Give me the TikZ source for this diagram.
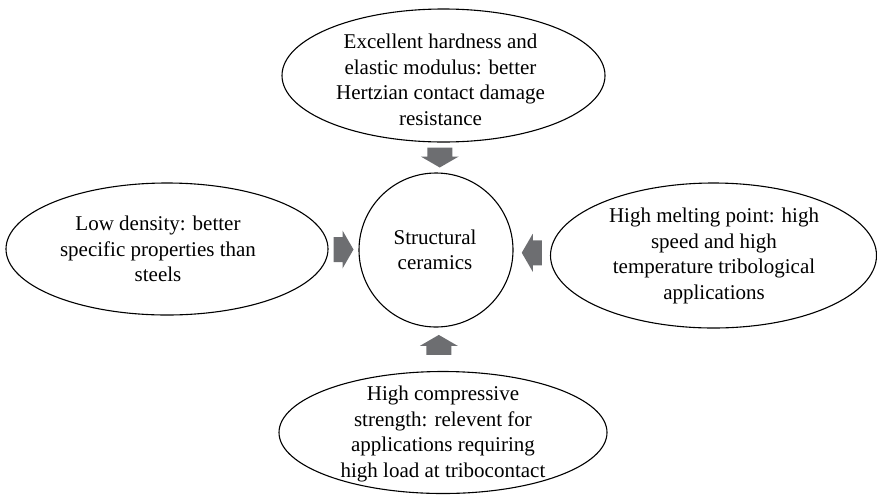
\documentclass[tikz,border=0pt]{standalone}
\usepackage{fontspec}
\setmainfont{Liberation Serif}
\usetikzlibrary{shapes.geometric,calc}
\definecolor{arrowgray}{RGB}{109,110,113}
\tikzset{
  oval/.style={ellipse, draw, line width=1.1pt, inner sep=0pt},
  txt/.style={align=center, font=\fontsize{21}{25.5}\selectfont, inner sep=0pt},
  blockarrow/.pic={\fill[arrowgray] (-10,-12.5) -- (-1,-12.5) -- (-1,-19) -- (10,0) -- (-1,19) -- (-1,12.5) -- (-10,12.5) -- cycle;}
}
\begin{document}
\begin{tikzpicture}[x=1pt,y=-1pt]
\useasboundingbox (0,0) rectangle (877,496);
% nodes
\node[oval, minimum width=77*2pt, minimum height=77*2pt, circle] (c) at (436,250) {};
\node[txt] at (435,250) {Structural\\ceramics};

\node[oval, minimum width=323pt, minimum height=133pt] (top) at (443.5,75.5) {};
\node[txt] at (440.5,80) {Excellent hardness and\\elastic modulus: better\\Hertzian contact damage\\resistance};

\node[oval, minimum width=322pt, minimum height=132pt] (left) at (167,249) {};
\node[txt] at (158,249) {Low density: better\\specific properties than\\steels};

\node[oval, minimum width=326pt, minimum height=145pt] (right) at (713.5,255.5) {};
\node[txt] at (714,256) {High melting point: high\\speed and high\\temperature tribological\\applications};

\node[oval, minimum width=328pt, minimum height=122pt] (bottom) at (443,432.5) {};
\node[txt] at (443,434) {High compressive\\strength: relevent for\\applications requiring\\high load at tribocontact};

% block arrows
\path ($(top.south)!0.5!(c.north)$) pic[rotate=-90] {blockarrow};
\path ($(left.east)!0.5!(c.west)$) pic {blockarrow};
\path ($(right.west)!0.5!(c.east)$) pic[rotate=180] {blockarrow};
\path ($(bottom.north)!0.6!(c.south)$) pic[rotate=90] {blockarrow};
\end{tikzpicture}
\end{document}
